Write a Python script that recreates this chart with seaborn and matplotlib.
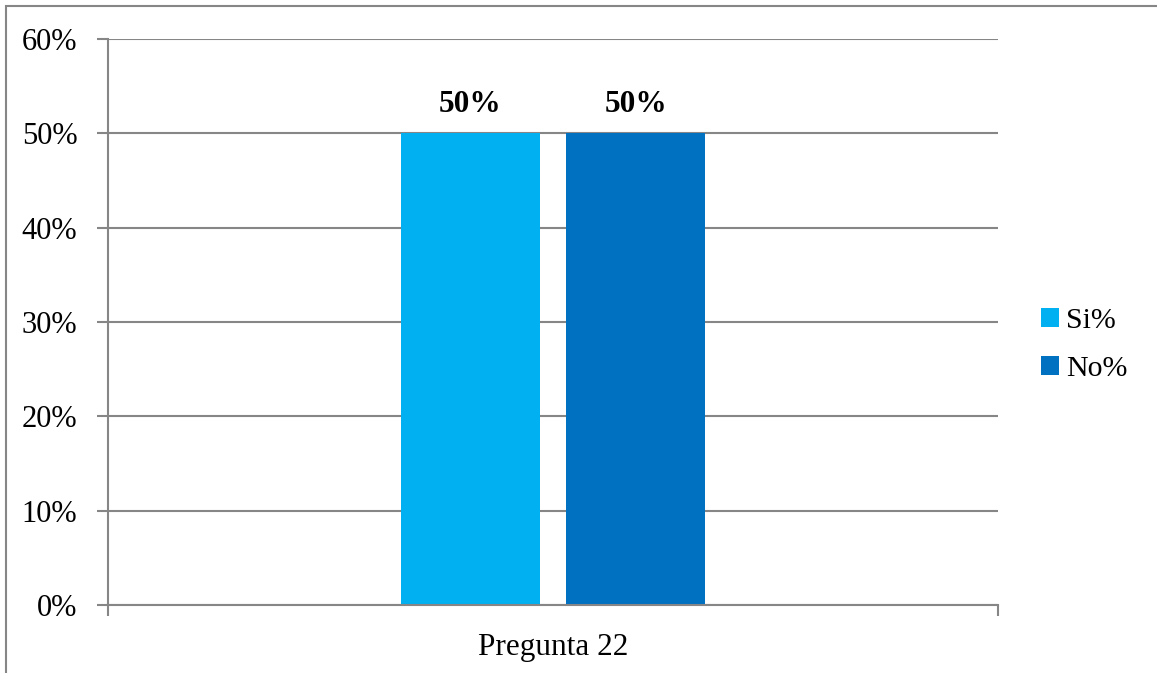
import matplotlib
matplotlib.use("Agg")
import matplotlib.pyplot as plt
from matplotlib.patches import Rectangle
import pandas as pd
import seaborn as sns

# Survey answers for question 22 (share of respondents)
categorias = ["Pregunta 22"]
series = ["Si%", "No%"]
valores = [0.50, 0.50]
colores = ["#00B0F0", "#0070C0"]
ticks_y = [0.0, 0.1, 0.2, 0.3, 0.4, 0.5, 0.6]
etiquetas_y = ["0%", "10%", "20%", "30%", "40%", "50%", "60%"]

df = pd.DataFrame({
    "categoria": categorias * len(series),
    "serie": series,
    "valor": valores,
})

sns.set_theme(style="white")
plt.rcParams["font.family"] = ["Liberation Serif", "DejaVu Serif"]
plt.rcParams["text.color"] = "black"

gris = "#868686"
fig = plt.figure(figsize=(11.57, 6.73), dpi=100)
ax = fig.add_axes([108 / 1157, 1 - 605 / 673, 890 / 1157, 566 / 673])

sns.barplot(data=df, x="categoria", y="valor", hue="serie",
            palette=colores, width=0.373, gap=0.1625,
            saturation=1, linewidth=0, edgecolor="none",
            ax=ax, legend=True)

ax.set_xlim(-0.5, 0.5)
ax.set_ylim(0, 0.6)
ax.set_yticks(ticks_y)
ax.set_yticklabels(etiquetas_y, fontsize=22, color="black")
ax.set_xticks([0])
ax.set_xticklabels(categorias, fontsize=22.5, color="black")
ax.set_xticks([-0.5, 0.5], minor=True)
ax.tick_params(axis="x", which="major", length=0, pad=20)
ax.tick_params(axis="x", which="minor", bottom=True, length=8, width=1.5,
               color=gris, direction="out")
ax.tick_params(axis="y", left=True, length=8, width=1.5, color=gris,
               direction="out", pad=14)
ax.set_xlabel("")
ax.set_ylabel("")

ax.yaxis.grid(True, color=gris, linewidth=1.5)
ax.set_axisbelow(True)
for lado in ["top", "right"]:
    ax.spines[lado].set_visible(False)
for lado in ["left", "bottom"]:
    ax.spines[lado].set_color(gris)
    ax.spines[lado].set_linewidth(1.5)

# Value labels above each bar
for cont in ax.containers:
    ax.bar_label(cont, labels=[f"{v:.0%}" for v in cont.datavalues],
                 fontsize=22.5, fontweight="bold", color="black", padding=10)

# Legend on the right side
handles, labels = ax.get_legend_handles_labels()
ax.legend_.remove()
fig.legend(handles, labels, loc="center left",
           bbox_to_anchor=(1041 / 1157, 1 - 345 / 673),
           frameon=False, fontsize=21.5, handlelength=0.6, handleheight=0.6,
           handletextpad=0.25, labelspacing=0.75, borderaxespad=0,
           borderpad=0)

# Outer chart frame
fig.patches.append(Rectangle((6 / 1157, -0.1), 1.2, 1 - 6 / 673 + 0.1,
                             transform=fig.transFigure, fill=False,
                             edgecolor=gris, linewidth=1.5))

fig.savefig("out.png", dpi=100, facecolor="white")
